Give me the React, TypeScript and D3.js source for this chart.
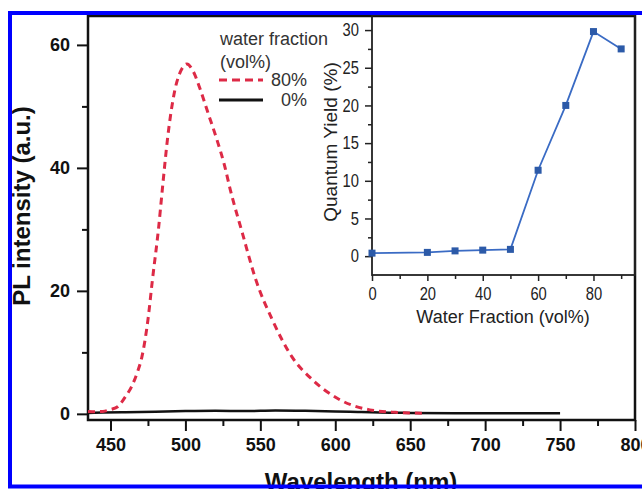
import React, { useEffect, useRef } from "react";
import * as d3 from "d3";

// PL spectra (wavelength nm / intensity a.u.)
const wl80 = [435, 440, 445, 450, 455, 460, 464, 468, 471, 475, 478, 482, 485, 488, 493, 497, 501, 505, 510, 515, 521, 526, 530, 538, 547, 558, 571, 585, 603, 623, 640, 660];
const pl80 = [0.4, 0.35, 0.4, 0.7, 1.2, 2.8, 4.4, 6.8, 9.3, 15.3, 21.8, 30, 37.5, 44.6, 52.7, 55.8, 56.9, 55.8, 52.7, 49, 44.6, 40.5, 36.4, 29.4, 21.8, 15.3, 9.3, 5.5, 2.3, 0.65, 0.25, 0.1];
const wl0 = [435, 445, 460, 480, 500, 520, 540, 560, 580, 600, 615, 630, 650, 680, 700, 720, 750];
const pl0 = [0.15, 0.2, 0.25, 0.35, 0.45, 0.5, 0.45, 0.55, 0.5, 0.4, 0.3, 0.2, 0.15, 0.1, 0.1, 0.1, 0.1];

// inset: quantum yield vs water fraction
const fractions = [0, 20, 30, 40, 50, 60, 70, 80, 90];
const qy = [0.4, 0.5, 0.7, 0.8, 0.9, 11.4, 20, 29.8, 27.5];

const xTicks = [450, 500, 550, 600, 650, 700, 750, 800];
const xMinor = [475, 525, 575, 625, 675, 725, 775];
const yTicks = [0, 20, 40, 60];
const yMinor = [10, 30, 50];
const inXTicks = [0, 20, 40, 60, 80];
const inXMinor = [10, 30, 50, 70, 90];
const inYTicks = [0, 5, 10, 15, 20, 25, 30];
const inYMinor = [2.5, 7.5, 12.5, 17.5, 22.5, 27.5];

const legendItems = [
  { label: "80%", dash: "8,5", color: "#dd2a46" },
  { label: "0%", dash: null, color: "#111" },
];

export default function App() {
  const ref = useRef<SVGSVGElement>(null);

  useEffect(() => {
    const svg = d3.select(ref.current);
    svg.selectAll("*").remove();

    const bold = "'Liberation Sans', Arial, sans-serif";

    // main chart
    const x = d3.scaleLinear().domain([435, 800]).range([88, 635]);
    const y = d3.scaleLinear().domain([-1, 64.7]).range([420, 16]);

    const styleAxis = (g: any, size: number, weight: string) => {
      g.select(".domain").remove();
      g.selectAll("line").attr("stroke", "#111").attr("stroke-width", 2);
      g.selectAll("text")
        .attr("font-family", bold)
        .attr("font-size", size)
        .attr("font-weight", weight)
        .attr("fill", "#111");
    };

    svg.append("g")
      .attr("transform", "translate(0,420)")
      .call(d3.axisBottom(x).tickValues(xTicks).tickSize(11).tickPadding(7).tickFormat(d3.format("d")))
      .call((g: any) => styleAxis(g, 18, "bold"));
    svg.append("g")
      .attr("transform", "translate(0,420)")
      .call(d3.axisBottom(x).tickValues(xMinor).tickSize(6).tickFormat(() => ""))
      .call((g: any) => styleAxis(g, 18, "bold"));
    svg.append("g")
      .attr("transform", "translate(88,0)")
      .call(d3.axisLeft(y).tickValues(yTicks).tickSize(11).tickPadding(7).tickFormat(d3.format("d")))
      .call((g: any) => styleAxis(g, 18, "bold"));
    svg.append("g")
      .attr("transform", "translate(88,0)")
      .call(d3.axisLeft(y).tickValues(yMinor).tickSize(6).tickFormat(() => ""))
      .call((g: any) => styleAxis(g, 18, "bold"));

    svg.append("rect")
      .attr("x", x(435)).attr("y", y(64.7))
      .attr("width", x(800) - x(435)).attr("height", y(-1) - y(64.7))
      .attr("fill", "none").attr("stroke", "#111").attr("stroke-width", 2.5);

    const line = d3.line<[number, number]>()
      .x((d) => x(d[0]))
      .y((d) => y(d[1]))
      .curve(d3.curveMonotoneX);

    svg.append("path")
      .datum(wl0.map((w, i) => [w, pl0[i]] as [number, number]))
      .attr("d", line)
      .attr("fill", "none").attr("stroke", "#111").attr("stroke-width", 2.5);

    svg.append("path")
      .datum(wl80.map((w, i) => [w, pl80[i]] as [number, number]))
      .attr("d", line)
      .attr("fill", "none").attr("stroke", "#dd2a46")
      .attr("stroke-width", 3).attr("stroke-dasharray", "7,5");

    // axis titles
    svg.append("text")
      .attr("x", 361).attr("y", 490)
      .attr("text-anchor", "middle")
      .attr("font-family", bold).attr("font-weight", "bold").attr("font-size", 24)
      .attr("fill", "#111")
      .text("Wavelength (nm)");
    svg.append("text")
      .attr("transform", "translate(30,206) rotate(-90)")
      .attr("text-anchor", "middle")
      .attr("font-family", bold).attr("font-weight", "bold").attr("font-size", 24)
      .attr("fill", "#111")
      .text("PL intensity (a.u.)");

    // legend
    const lg = svg.append("g").attr("font-family", bold).attr("font-size", 18).attr("fill", "#333");
    lg.append("text").attr("x", 220).attr("y", 45).text("water fraction");
    lg.append("text").attr("x", 220).attr("y", 68).text("(vol%)");
    legendItems.forEach((it, i) => {
      const ly = 80 + i * 20;
      lg.append("line")
        .attr("x1", 219).attr("x2", 263).attr("y1", ly).attr("y2", ly)
        .attr("stroke", it.color).attr("stroke-width", 3)
        .attr("stroke-dasharray", it.dash);
      lg.append("text")
        .attr("x", 307).attr("y", ly + 6)
        .attr("text-anchor", "end")
        .text(it.label);
    });

    // inset
    const ix = d3.scaleLinear().domain([0, 95]).range([372, 635]);
    const iy = d3.scaleLinear().domain([-2.5, 32]).range([275, 15]);

    const styleInset = (g: any) => {
      g.select(".domain").remove();
      g.selectAll("line").attr("stroke", "#222").attr("stroke-width", 1.5);
      g.selectAll("text")
        .attr("font-family", "'Liberation Sans Narrow', 'Liberation Sans', Arial, sans-serif")
        .attr("font-size", 18)
        .attr("fill", "#222")
        .attr("textLength", function (this: any) {
          return (this.textContent || "").length * 8.2;
        })
        .attr("lengthAdjust", "spacingAndGlyphs");
    };

    svg.append("g")
      .attr("transform", "translate(0,275)")
      .call(d3.axisBottom(ix).tickValues(inXTicks).tickSize(6).tickPadding(6).tickFormat(d3.format("d")))
      .call(styleInset);
    svg.append("g")
      .attr("transform", "translate(0,275)")
      .call(d3.axisBottom(ix).tickValues(inXMinor).tickSize(4).tickFormat(() => ""))
      .call(styleInset);
    svg.append("g")
      .attr("transform", "translate(372,0)")
      .call(d3.axisLeft(iy).tickValues(inYTicks).tickSize(7).tickPadding(6).tickFormat(d3.format("d")))
      .call(styleInset);
    svg.append("g")
      .attr("transform", "translate(372,0)")
      .call(d3.axisLeft(iy).tickValues(inYMinor).tickSize(4).tickFormat(() => ""))
      .call(styleInset);

    svg.append("rect")
      .attr("x", ix(0)).attr("y", iy(32))
      .attr("width", ix(95) - ix(0)).attr("height", iy(-2.5) - iy(32))
      .attr("fill", "none").attr("stroke", "#222").attr("stroke-width", 1.8);

    const qyPts = fractions.map((f, i) => [f, qy[i]] as [number, number]);
    svg.append("path")
      .datum(qyPts)
      .attr("d", d3.line<[number, number]>().x((d) => ix(d[0])).y((d) => iy(d[1])))
      .attr("fill", "none").attr("stroke", "#3a6bc4").attr("stroke-width", 1.8);
    svg.append("g")
      .selectAll("rect")
      .data(qyPts)
      .enter()
      .append("rect")
      .attr("x", (d) => ix(d[0]) - 3.5)
      .attr("y", (d) => iy(d[1]) - 3.5)
      .attr("width", 7).attr("height", 7)
      .attr("fill", "#2c5aa8");

    svg.append("text")
      .attr("x", 503).attr("y", 323)
      .attr("text-anchor", "middle")
      .attr("font-family", bold).attr("font-size", 18).attr("fill", "#222")
      .text("Water Fraction (vol%)");
    svg.append("text")
      .attr("transform", "translate(337,142) rotate(-90)")
      .attr("text-anchor", "middle")
      .attr("font-family", bold).attr("font-size", 19).attr("fill", "#222")
      .text("Quantum Yield (%)");

    // blue frame
    svg.append("rect")
      .attr("x", 10).attr("y", 13)
      .attr("width", 700).attr("height", 473.5)
      .attr("fill", "none").attr("stroke", "#0000ff").attr("stroke-width", 4);
  });

  return (
    <svg
      ref={ref}
      width={642}
      height={489}
      style={{ position: "absolute", left: 0, top: 0, background: "#fff" }}
    />
  );
}
